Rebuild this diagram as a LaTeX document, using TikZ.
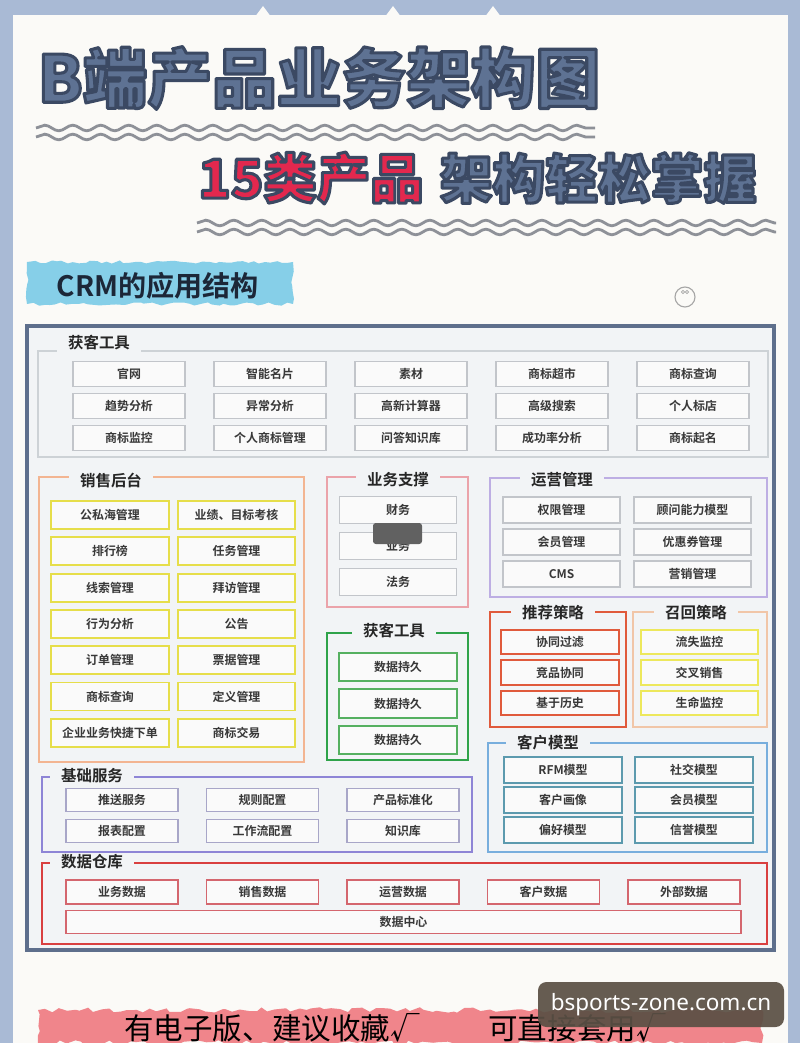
\documentclass[tikz,border=0pt]{standalone}
\usepackage{fontspec}
\setmainfont{Noto Sans CJK SC}[BoldFont={Noto Sans CJK SC Bold}]
\newfontfamily\titlefont{Noto Sans CJK SC Black}
\newfontfamily\boxfont{Noto Sans CJK SC Bold}
\newfontfamily\markfont{Noto Sans}
\usetikzlibrary{positioning,decorations.pathmorphing}
\newcommand{\outlined}[1]{\special{pdf:literal direct q 2 Tr 2.2 w 1 j 0.231 0.286 0.388 RG}#1\special{pdf:literal direct Q}}

\definecolor{edgeblue}{HTML}{A9BAD5}
\definecolor{pagebg}{HTML}{FBFAF7}
\definecolor{titleblue}{HTML}{5E7293}
\definecolor{titlered}{HTML}{E2284E}
\definecolor{wavegray}{HTML}{8E9198}
\definecolor{bannerblue}{HTML}{86CFE8}
\definecolor{navy}{HTML}{1C2738}
\definecolor{frameblue}{HTML}{5E6F8C}
\definecolor{panelbg}{HTML}{F2F4F6}
\definecolor{boxfill}{HTML}{FAFAFA}
\definecolor{grpgray}{HTML}{CDD2D6}
\definecolor{boxgray}{HTML}{C2C5CA}
\definecolor{salesorange}{HTML}{F3B592}
\definecolor{salesyellow}{HTML}{E6DE4A}
\definecolor{supportpink}{HTML}{EBA3AA}
\definecolor{toolgreen}{HTML}{2FA34A}
\definecolor{boxgreen}{HTML}{55B060}
\definecolor{opspurple}{HTML}{BDAEE3}
\definecolor{recred}{HTML}{E05A3C}
\definecolor{recallpeach}{HTML}{F1C6A8}
\definecolor{recallyellow}{HTML}{EDE85C}
\definecolor{custblue}{HTML}{78AEDD}
\definecolor{custteal}{HTML}{5C9AAE}
\definecolor{basepurple}{HTML}{8E85D6}
\definecolor{basebox}{HTML}{A8A6C8}
\definecolor{dwred}{HTML}{D94040}
\definecolor{dwbox}{HTML}{D4666E}
\definecolor{brushpink}{HTML}{F0858B}
\definecolor{markbrown}{HTML}{5B5045}

\begin{document}
\begin{tikzpicture}[x=0.025cm, y=-0.025cm,
  grp/.style={draw=#1, line width=1.5pt},
  grplabel/.style={fill=panelbg, inner xsep=8pt, inner ysep=1pt, text=black!85, font=\bfseries\fontsize{11}{12}\selectfont},
  item/.style={draw=#1, fill=boxfill, line width=1pt, minimum width=2.8cm, minimum height=0.62cm, inner sep=0pt, text=black!78, font=\boxfont\fontsize{8.5}{10}\selectfont},
  wave/.style={draw=wavegray, line width=2pt, decorate, decoration={snake, amplitude=0.07cm, segment length=0.7cm}}]
  \useasboundingbox (0,0) rectangle (800,1043);
  \fill[edgeblue] (0,0) rectangle (800,1043);
  \fill[pagebg] (13,15) rectangle (788,1043);
  \foreach \nx in {263,393,493}
    \fill[pagebg] (\nx-7,15.5) -- (\nx,6) -- (\nx+7,15.5) -- cycle;

  \node[font=\titlefont\fontsize{46}{50}\selectfont, text=titleblue] (title) at (319,78) {\outlined{B端产品业务架构图}};
  \draw[wave] (36,128) -- (595,128);
  \draw[wave] (36,137) -- (595,137);
  \node[font=\titlefont\fontsize{38}{42}\selectfont, text=titlered] (subred) at (311,178) {\outlined{15类产品}};
  \node[font=\titlefont\fontsize{37.5}{42}\selectfont, text=titleblue] (subblue) at (598,178) {\outlined{架构轻松掌握}};
  \draw[wave] (197,223) -- (776,223);
  \draw[wave] (197,232) -- (776,232);

  \fill[bannerblue, decorate, decoration={random steps, segment length=4pt, amplitude=1.2pt}] (27,262) rectangle (293,304);
  \node[font=\bfseries\fontsize{20}{24}\selectfont, text=navy] (crm) at (158,286) {CRM的应用结构};
  \draw[gray!70, line width=0.8pt] (685,297) circle (0.25cm);
  \draw[gray!70, line width=0.5pt] (683,292) circle (0.04cm) (687,292) circle (0.04cm);

  \draw[frameblue, line width=3pt, fill=panelbg] (27,326) rectangle (774,950);

  % top tools
  \draw[grp=grpgray] (38,351) rectangle (768,457);
  \node[grplabel] (toollbl) at (99,343) {获客工具};
  \foreach \t [count=\i from 0] in {官网,智能名片,素材,商标超市,商标查询,趋势分析,异常分析,高新计算器,高级搜索,个人标店,商标监控,个人商标管理,问答知识库,成功率分析,商标起名}
    \node[item=boxgray] (top\i) at ({129+141*mod(\i,5)},{374+32*div(\i,5)}) {\t};

  % sales
  \draw[grp=salesorange] (39,477) rectangle (304,762);
  \node[grplabel] (salelbl) at (111,481) {销售后台};
  \foreach \t [count=\i from 0] in {公私海管理,业绩、目标考核,排行榜,任务管理,线索管理,拜访管理,行为分析,公告,订单管理,票据管理,商标查询,定义管理,企业业务快捷下单,商标交易}
    \node[item=salesyellow, line width=1.3pt, minimum width=2.93cm, minimum height=0.7cm] (sale\i) at ({110+126.5*mod(\i,2)},{515+36.3*div(\i,2)}) {\t};

  % support
  \draw[grp=supportpink] (327,477) rectangle (468,607);
  \node[grplabel] (suplbl) at (398,480) {业务支撑};
  \foreach \t [count=\i from 0] in {财务,业务,法务}
    \node[item=boxgray, minimum width=2.93cm, minimum height=0.67cm] (sup\i) at (398,{510+36*\i}) {\t};
  \fill[black!62, rounded corners=2pt] (373,523) rectangle (422,544);

  % green tools
  \draw[grp=toolgreen] (327,633) rectangle (468,760);
  \node[grplabel] (greenlbl) at (394,631) {获客工具};
  \foreach \i in {0,1,2}
    \node[item=boxgreen, line width=1.3pt, minimum width=2.95cm, minimum height=0.72cm] (keep\i) at (398,{667+36.5*\i}) {数据持久};

  % operations
  \draw[grp=opspurple] (490,478) rectangle (767,597);
  \node[grplabel] (opslbl) at (562,480) {运营管理};
  \foreach \t [count=\i from 0] in {权限管理,顾问能力模型,会员管理,优惠券管理,CMS,营销管理}
    \node[item=boxgray, minimum width=2.93cm, minimum height=0.65cm] (ops\i) at ({561.5+131*mod(\i,2)},{510+32*div(\i,2)}) {\t};

  % recommend / recall
  \draw[grp=recred] (490,612) rectangle (626,727);
  \node[grplabel] (reclbl) at (553,613) {推荐策略};
  \foreach \t [count=\i from 0] in {协同过滤,竞品协同,基于历史}
    \node[item=recred, line width=1.5pt, minimum width=2.93cm, minimum height=0.62cm] (rec\i) at (560,{642+30.5*\i}) {\t};
  \draw[grp=recallpeach] (633,612) rectangle (767,727);
  \node[grplabel] (calllbl) at (696,613) {召回策略};
  \foreach \t [count=\i from 0] in {流失监控,交叉销售,生命监控}
    \node[item=recallyellow, line width=1.5pt, minimum width=2.93cm, minimum height=0.62cm] (call\i) at (699.5,{642+30.5*\i}) {\t};

  % customer model
  \draw[grp=custblue] (488,743) rectangle (767,852);
  \node[grplabel] (custlbl) at (548,743) {客户模型};
  \foreach \t [count=\i from 0] in {RFM模型,社交模型,客户画像,会员模型,偏好模型,信誉模型}
    \node[item=custteal, minimum width=2.95cm, minimum height=0.65cm] (cust\i) at ({563+131*mod(\i,2)},{770+30*div(\i,2)}) {\t};

  % base services
  \draw[grp=basepurple] (42,777) rectangle (472,852);
  \node[grplabel] (baselbl) at (92,776) {基础服务};
  \foreach \t [count=\i from 0] in {推送服务,规则配置,产品标准化,报表配置,工作流配置,知识库}
    \node[item=basebox, minimum height=0.58cm] (base\i) at ({122+140.5*mod(\i,3)},{800+31*div(\i,3)}) {\t};

  % data warehouse
  \draw[grp=dwred] (42,863) rectangle (767,944);
  \node[grplabel] (dwlbl) at (92,862) {数据仓库};
  \foreach \t [count=\i from 0] in {业务数据,销售数据,运营数据,客户数据,外部数据}
    \node[item=dwbox, minimum height=0.6cm] (dw\i) at ({122+140.5*\i},892) {\t};
  \node[item=dwbox, minimum width=16.88cm, minimum height=0.58cm] (dwcenter) at (403.5,922) {数据中心};

  \fill[brushpink, decorate, decoration={random steps, segment length=5pt, amplitude=2pt}] (38,1010) rectangle (762,1043);
  \node[font=\fontsize{21}{24}\selectfont] (note1) at (272,1028) {有电子版、建议收藏√};
  \node[font=\fontsize{21}{24}\selectfont] (note2) at (577,1028) {可直接套用√};
  \fill[markbrown, rounded corners=6pt, opacity=0.93] (538,982) rectangle (784,1027);
  \node[font=\markfont\fontsize{16}{18}\selectfont, text=white] (mark) at (661,1004.5) {bsports-zone.com.cn};
\end{tikzpicture}
\end{document}
